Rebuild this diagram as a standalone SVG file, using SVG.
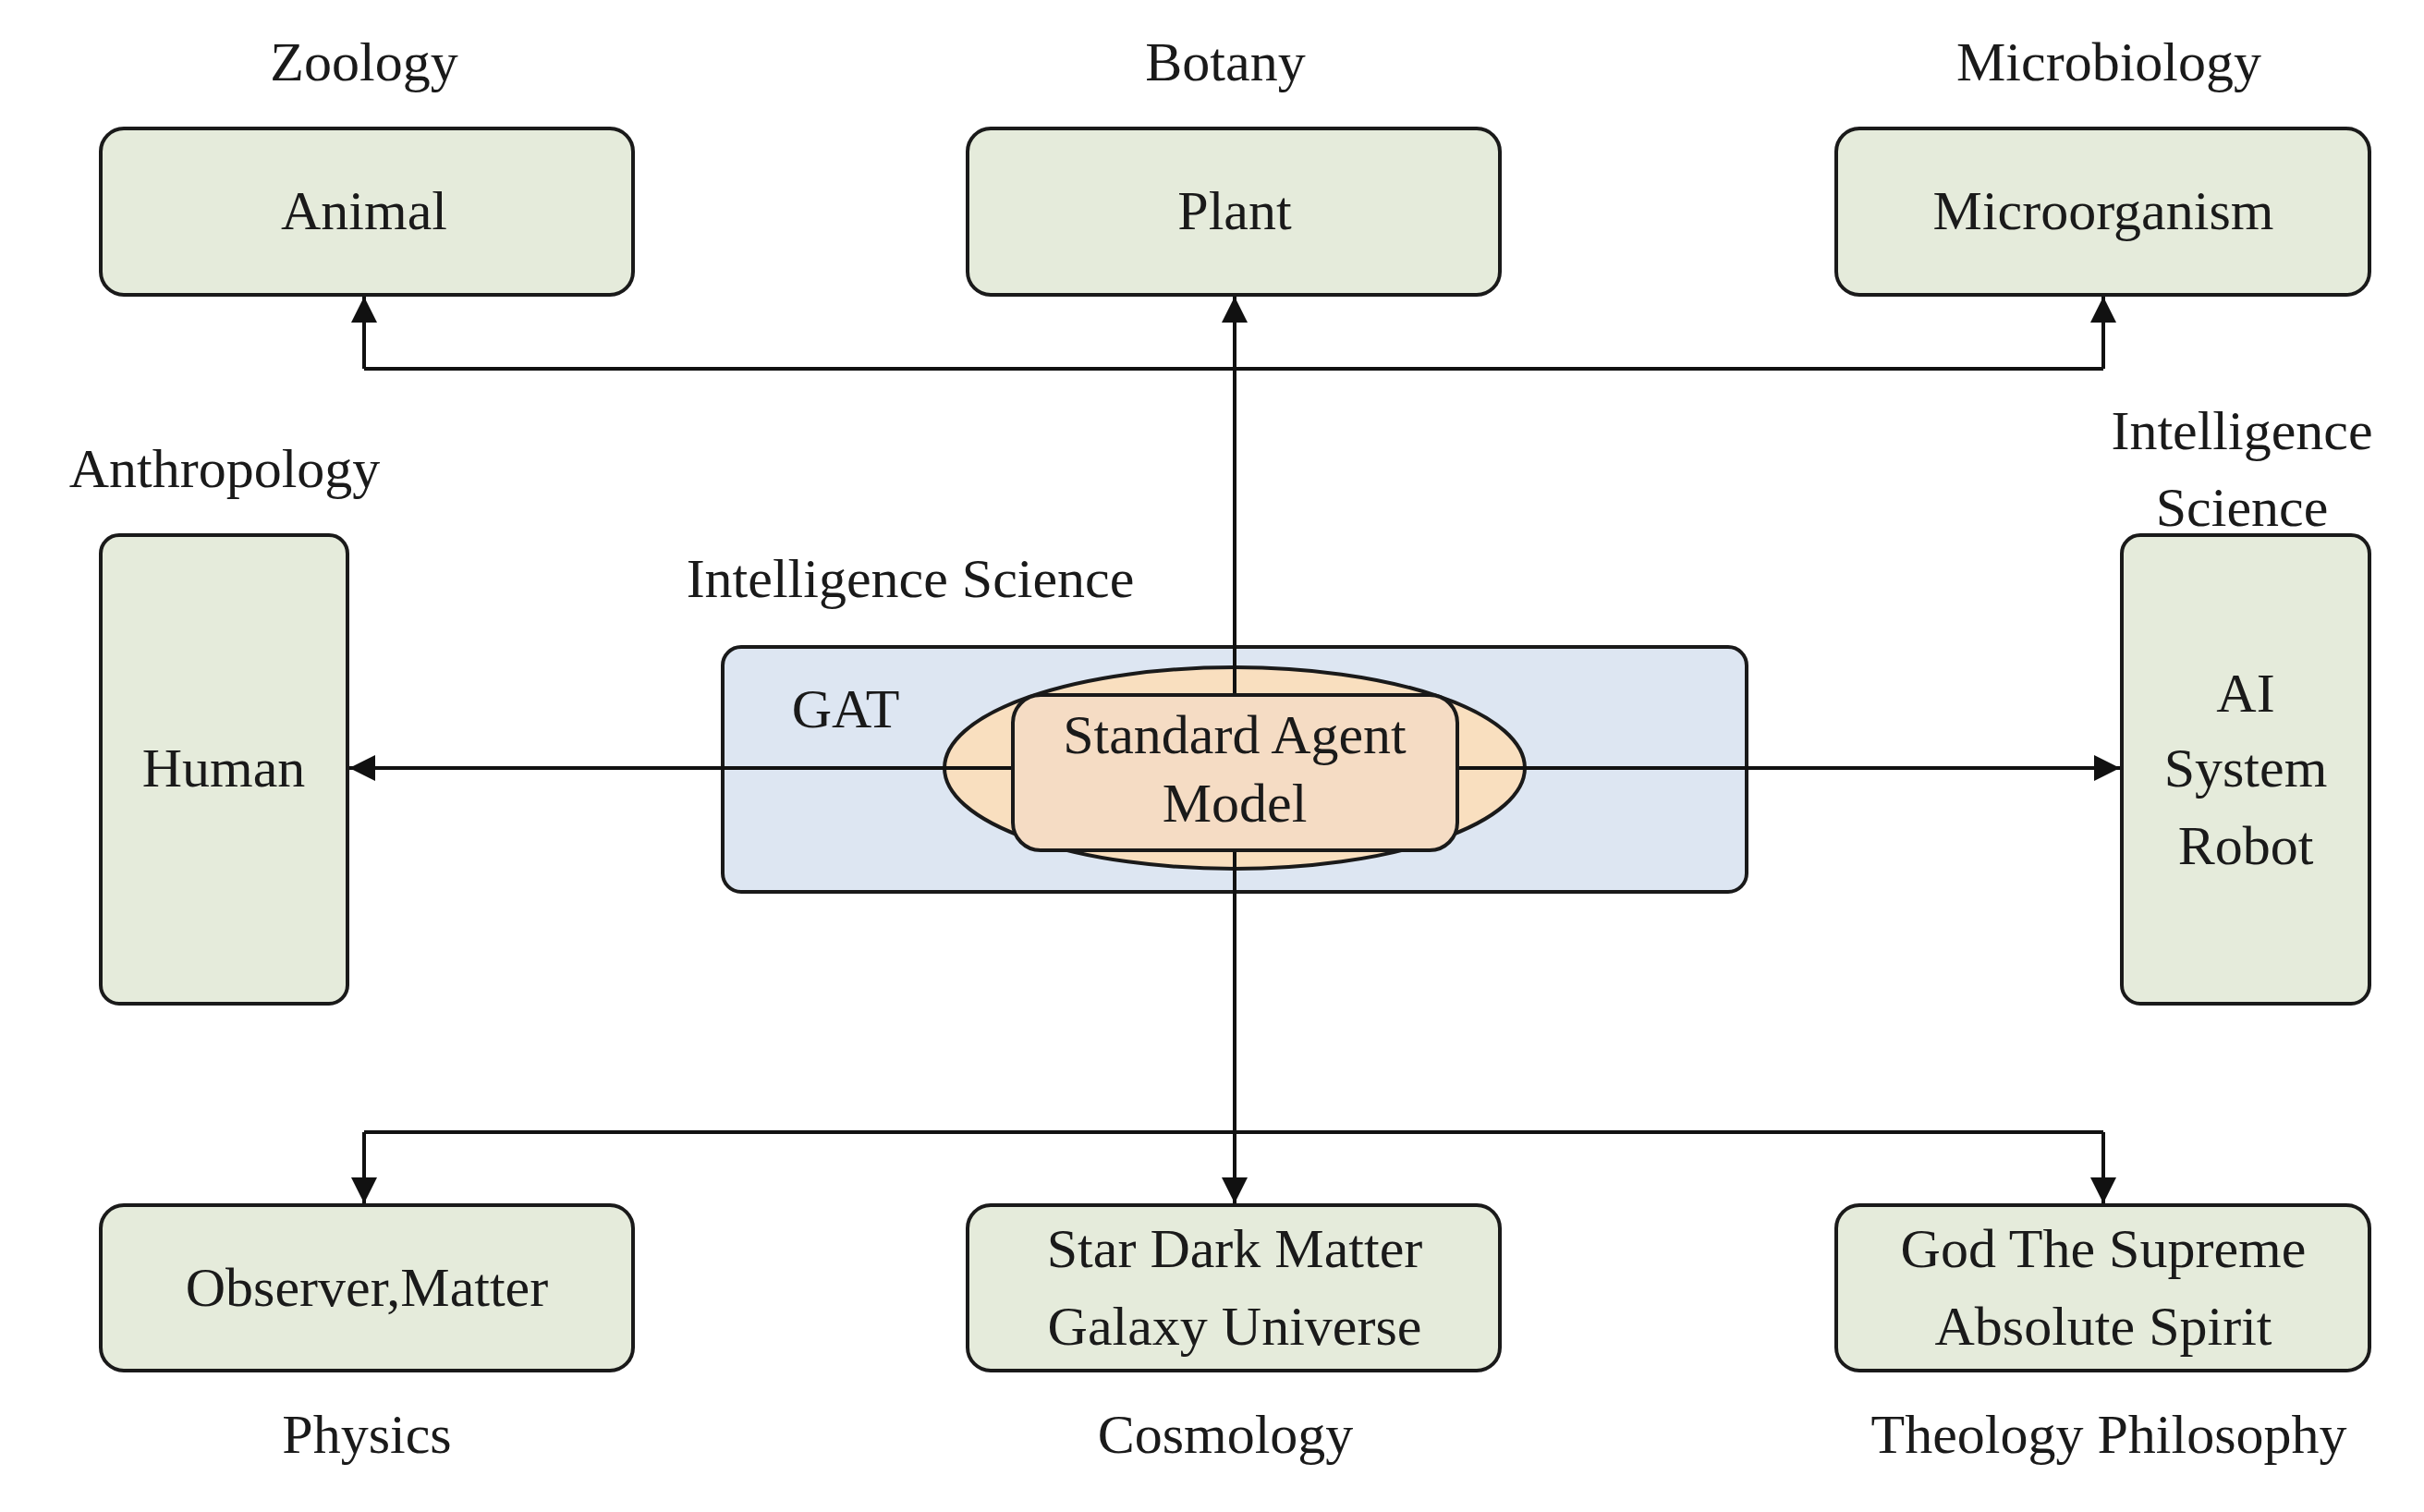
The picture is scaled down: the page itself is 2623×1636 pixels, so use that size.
<svg xmlns="http://www.w3.org/2000/svg" width="2623" height="1636" viewBox="0 0 2623 1636">
<style>
text{font-family:"Liberation Serif","DejaVu Serif",serif;font-size:60px;fill:#1a1a1a;text-anchor:middle}
.box{fill:#e5ebdb;stroke:#1a1a1a;stroke-width:4}
.ln{stroke:#111;stroke-width:4;fill:none}
</style>
<defs><marker id="a" viewBox="0 0 10 10" refX="10" refY="5" markerWidth="7" markerHeight="7" markerUnits="strokeWidth" orient="auto"><path d="M0,0L10,5L0,10z" fill="#111"/></marker></defs>
<rect width="2623" height="1636" fill="#fff"/>
<g id="gat"><rect x="782" y="700" width="1108" height="265" rx="20" fill="#dde6f2" stroke="#1a1a1a" stroke-width="4"/>
<text x="985" y="646">Intelligence Science</text><text x="915" y="787">GAT</text>
<ellipse cx="1336" cy="831" rx="314" ry="109" fill="#f9dfbf" stroke="#1a1a1a" stroke-width="4"/></g>
<g id="connectors">
<path class="ln" d="M1336,1225V752"/>
<path class="ln" d="M1336,752V321" marker-end="url(#a)"/>
<path class="ln" d="M394,399H2276"/>
<path class="ln" d="M394,399V321" marker-end="url(#a)"/>
<path class="ln" d="M2276,399V321" marker-end="url(#a)"/>
<path class="ln" d="M1096,831H378" marker-end="url(#a)"/>
<path class="ln" d="M1577,831H2294" marker-end="url(#a)"/>
<path class="ln" d="M394,1225H2276"/>
<path class="ln" d="M394,1225V1302" marker-end="url(#a)"/>
<path class="ln" d="M1336,1225V1302" marker-end="url(#a)"/>
<path class="ln" d="M2276,1225V1302" marker-end="url(#a)"/>
</g>
<g id="sam"><rect x="1096" y="752" width="481" height="168" rx="30" fill="#f5dcc4" stroke="#1a1a1a" stroke-width="4"/>
<text x="1336" y="815">Standard Agent</text><text x="1336" y="889">Model</text></g>
<g id="animal"><text x="394" y="87">Zoology</text><rect class="box" x="109" y="139" width="576" height="180" rx="25"/><text x="394" y="248">Animal</text></g>
<g id="plant"><text x="1326" y="87">Botany</text><rect class="box" x="1047" y="139" width="576" height="180" rx="25"/><text x="1336" y="248">Plant</text></g>
<g id="micro"><text x="2282" y="87">Microbiology</text><rect class="box" x="1987" y="139" width="577" height="180" rx="25"/><text x="2276" y="248">Microorganism</text></g>
<g id="human"><text x="243" y="527">Anthropology</text><rect class="box" x="109" y="579" width="267" height="507" rx="20"/><text x="242" y="851">Human</text></g>
<g id="ai"><text x="2426" y="486">Intelligence</text><text x="2426" y="569">Science</text><rect class="box" x="2296" y="579" width="268" height="507" rx="20"/><text x="2430" y="770">AI</text><text x="2430" y="851">System</text><text x="2430" y="935">Robot</text></g>
<g id="observer"><rect class="box" x="109" y="1304" width="576" height="179" rx="25"/><text x="397" y="1413">Observer,Matter</text><text x="397" y="1572">Physics</text></g>
<g id="star"><rect class="box" x="1047" y="1304" width="576" height="179" rx="25"/><text x="1336" y="1371">Star Dark Matter</text><text x="1336" y="1455">Galaxy Universe</text><text x="1326" y="1572">Cosmology</text></g>
<g id="god"><rect class="box" x="1987" y="1304" width="577" height="179" rx="25"/><text x="2276" y="1371">God The Supreme</text><text x="2276" y="1455">Absolute Spirit</text><text x="2282" y="1572">Theology Philosophy</text></g>
</svg>
